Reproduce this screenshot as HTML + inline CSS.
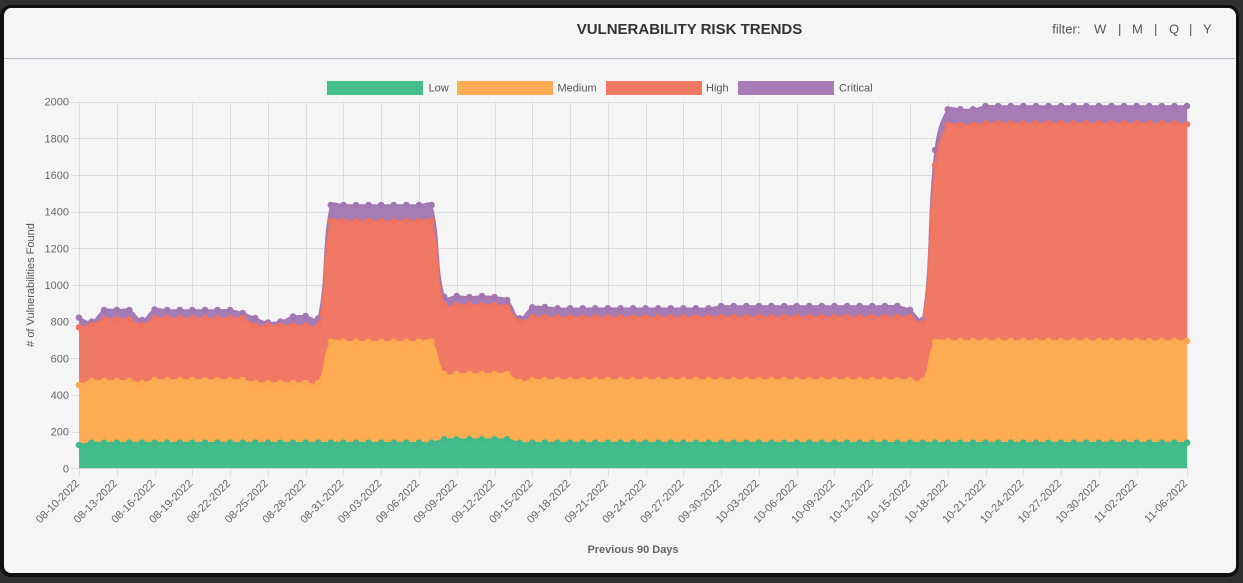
<!DOCTYPE html>
<html><head><meta charset="utf-8">
<style>
html,body{margin:0;padding:0;width:1243px;height:583px;overflow:hidden;background:#303030;}
.card{position:absolute;left:0;top:5px;width:1239px;height:572px;box-sizing:border-box;border:3px solid #0f0f0f;border-left-width:4px;border-bottom-width:4px;border-radius:11px;background:#f5f5f5;}
svg{position:absolute;left:0;top:0;}
text{font-family:"Liberation Sans",Arial,sans-serif;}
</style></head><body>
<div class="card"></div>
<svg width="1243" height="583" viewBox="0 0 1243 583" xmlns="http://www.w3.org/2000/svg">
<line x1="4" y1="58.5" x2="1235" y2="58.5" stroke="#bcb9cc" stroke-width="1"/>
<text x="689.5" y="34" font-size="15" font-weight="bold" fill="#333" text-anchor="middle">VULNERABILITY RISK TRENDS</text>
<g font-size="13" fill="#555">
<text x="1052.3" y="33.3">filter:</text>
<text x="1094" y="33.3">W</text>
<text x="1118" y="33.3">|</text>
<text x="1132" y="33.3">M</text>
<text x="1154" y="33.3">|</text>
<text x="1169" y="33.3">Q</text>
<text x="1189" y="33.3">|</text>
<text x="1203" y="33.3">Y</text>
</g>
<g>
<rect x="327" y="81" width="96" height="14" fill="#44bd8d"/>
<rect x="457" y="81" width="96" height="14" fill="#ffad55"/>
<rect x="606" y="81" width="96" height="14" fill="#f07965"/>
<rect x="738" y="81" width="96" height="14" fill="#a67cb6"/>
<g font-size="11" fill="#555">
<text x="428.5" y="91.5">Low</text>
<text x="557.5" y="91.5">Medium</text>
<text x="706" y="91.5">High</text>
<text x="839" y="91.5">Critical</text>
</g>
</g>
<g id="grid" stroke="#dedede" stroke-width="1"></g>
<g id="series"></g>
<g font-size="11" fill="#666" text-anchor="end">
<text x="69" y="472.3">0</text>
<text x="69" y="435.6">200</text>
<text x="69" y="399">400</text>
<text x="69" y="362.3">600</text>
<text x="69" y="325.7">800</text>
<text x="69" y="289">1000</text>
<text x="69" y="252.3">1200</text>
<text x="69" y="215.7">1400</text>
<text x="69" y="179">1600</text>
<text x="69" y="142.4">1800</text>
<text x="69" y="105.7">2000</text>
</g>
<text x="34" y="285" font-size="11" fill="#555" text-anchor="middle" transform="rotate(-90 34 285)"># of Vulnerabilities Found</text>
<text x="633" y="553" font-size="11" font-weight="bold" fill="#666" text-anchor="middle">Previous 90 Days</text>
<g font-size="11" fill="#666" text-anchor="end">
<text x="80" y="484" transform="rotate(-45 80 484)">08-10-2022</text>
<text x="117.8" y="484" transform="rotate(-45 117.8 484)">08-13-2022</text>
<text x="155.5" y="484" transform="rotate(-45 155.5 484)">08-16-2022</text>
<text x="193.3" y="484" transform="rotate(-45 193.3 484)">08-19-2022</text>
<text x="231.1" y="484" transform="rotate(-45 231.1 484)">08-22-2022</text>
<text x="268.9" y="484" transform="rotate(-45 268.9 484)">08-25-2022</text>
<text x="306.6" y="484" transform="rotate(-45 306.6 484)">08-28-2022</text>
<text x="344.4" y="484" transform="rotate(-45 344.4 484)">08-31-2022</text>
<text x="382.2" y="484" transform="rotate(-45 382.2 484)">09-03-2022</text>
<text x="420" y="484" transform="rotate(-45 420 484)">09-06-2022</text>
<text x="457.7" y="484" transform="rotate(-45 457.7 484)">09-09-2022</text>
<text x="495.5" y="484" transform="rotate(-45 495.5 484)">09-12-2022</text>
<text x="533.3" y="484" transform="rotate(-45 533.3 484)">09-15-2022</text>
<text x="571" y="484" transform="rotate(-45 571 484)">09-18-2022</text>
<text x="608.8" y="484" transform="rotate(-45 608.8 484)">09-21-2022</text>
<text x="646.6" y="484" transform="rotate(-45 646.6 484)">09-24-2022</text>
<text x="684.4" y="484" transform="rotate(-45 684.4 484)">09-27-2022</text>
<text x="722.1" y="484" transform="rotate(-45 722.1 484)">09-30-2022</text>
<text x="759.9" y="484" transform="rotate(-45 759.9 484)">10-03-2022</text>
<text x="797.7" y="484" transform="rotate(-45 797.7 484)">10-06-2022</text>
<text x="835.5" y="484" transform="rotate(-45 835.5 484)">10-09-2022</text>
<text x="873.2" y="484" transform="rotate(-45 873.2 484)">10-12-2022</text>
<text x="911" y="484" transform="rotate(-45 911 484)">10-15-2022</text>
<text x="948.8" y="484" transform="rotate(-45 948.8 484)">10-18-2022</text>
<text x="986.5" y="484" transform="rotate(-45 986.5 484)">10-21-2022</text>
<text x="1024.3" y="484" transform="rotate(-45 1024.3 484)">10-24-2022</text>
<text x="1062.1" y="484" transform="rotate(-45 1062.1 484)">10-27-2022</text>
<text x="1099.9" y="484" transform="rotate(-45 1099.9 484)">10-30-2022</text>
<text x="1137.6" y="484" transform="rotate(-45 1137.6 484)">11-02-2022</text>
<text x="1188" y="484" transform="rotate(-45 1188 484)">11-06-2022</text>
</g>
</svg>
<script>
(function(){
var NS="http://www.w3.org/2000/svg";
var N=89,X0=79,DX=1108/88,YB=468.3,YT=101.7;
function el(t,a,p){var e=document.createElementNS(NS,t);for(var k in a)e.setAttribute(k,a[k]);p.appendChild(e);return e;}
// grid
var g=document.getElementById('grid');
for(var k=0;k<=10;k++){var y=Math.round(YB-36.66*k)+0.5;el('line',{x1:71,y1:y,x2:1187,y2:y},g);}
var ticks=[];for(var i=0;i<=84;i+=3)ticks.push(i);ticks.push(88);
ticks.forEach(function(i){var x=Math.round(X0+DX*i)+0.5;el('line',{x1:x,y1:YT,x2:x,y2:476.5},g);});
function f(a,s,e,v){for(var i=s;i<=e;i++)a[i]=v;}
var C=new Array(N),H=new Array(N),M=new Array(N),L=new Array(N);
// Critical tops
C[0]=317.7;C[1]=321.7;f(C,2,4,310);C[5]=320;C[6]=309.5;f(C,7,12,310);C[13]=313;C[14]=318;C[15]=322.5;C[16]=321.5;C[17]=316.5;C[18]=316;C[19]=318.5;
f(C,20,28,205);C[29]=296.7;C[30]=296;C[31]=297;C[32]=296;C[33]=297;C[34]=300;C[35]=318.3;C[36]=307.3;C[37]=307;f(C,38,50,308.3);f(C,51,65,306);C[66]=310;C[67]=320;C[68]=150;f(C,69,71,109.3);f(C,72,88,106);
// High tops
H[0]=327.3;H[1]=325;f(H,2,4,319.3);H[5]=325;f(H,6,13,318.3);f(H,14,19,325.5);f(H,20,28,221);f(H,29,33,305);H[34]=307;H[35]=321.7;f(H,36,50,317.3);f(H,51,66,317);H[67]=323;H[68]=165;f(H,69,71,125);f(H,72,87,123.3);H[88]=124.3;
// Medium tops
M[0]=385;f(M,1,4,381);M[5]=383;f(M,6,13,380);f(M,14,19,383);f(M,20,28,341.7);f(M,29,34,374);M[35]=381.7;f(M,36,66,380);M[67]=381;M[68]=342;f(M,69,88,341);
// Low tops
L[0]=445;f(L,1,28,442.7);f(L,29,34,439.3);f(L,35,88,442.7);
function pts(a){return a.map(function(y,i){return {x:X0+DX*i,y:y};});}
function path(p){
 var t=0.4,cp=[];
 for(var i=0;i<p.length;i++){
  var pr=p[i-1]||p[i],cu=p[i],nx=p[i+1]||p[i];
  var d01=Math.hypot(cu.x-pr.x,cu.y-pr.y),d12=Math.hypot(nx.x-cu.x,nx.y-cu.y);
  var s01=d01/(d01+d12),s12=d12/(d01+d12);if(isNaN(s01))s01=0;if(isNaN(s12))s12=0;
  var fa=t*s01,fb=t*s12;
  var c1={x:cu.x-fa*(nx.x-pr.x),y:cu.y-fa*(nx.y-pr.y)},c2={x:cu.x+fb*(nx.x-pr.x),y:cu.y+fb*(nx.y-pr.y)};
  [c1,c2].forEach(function(c){c.y=Math.max(YT,Math.min(YB,c.y));c.x=Math.max(X0,Math.min(1187,c.x));});
  cp.push([c1,c2]);
 }
 var d='M'+p[0].x.toFixed(2)+','+p[0].y.toFixed(2);
 for(var i=1;i<p.length;i++){
  d+='C'+cp[i-1][1].x.toFixed(2)+','+cp[i-1][1].y.toFixed(2)+' '+cp[i][0].x.toFixed(2)+','+cp[i][0].y.toFixed(2)+' '+p[i].x.toFixed(2)+','+p[i].y.toFixed(2);
 }
 return d;
}
var S=document.getElementById('series');
var sets=[[C,'#a67cb6','#a276b3'],[H,'#f07965','#ee7360'],[M,'#ffad55','#fca84f'],[L,'#44bd8d','#40b989']];
sets.forEach(function(s){var p=pts(s[0]);var d=path(p);el('path',{d:d+'L1187,'+YB+'L79,'+YB+'Z',fill:s[1],stroke:'none'},S);});
sets.forEach(function(s){var p=pts(s[0]);var d=path(p);el('path',{d:d,fill:'none',stroke:s[2],'stroke-width':1.5},S);
 p.forEach(function(q){el('circle',{cx:q.x.toFixed(2),cy:q.y.toFixed(2),r:3.3,fill:s[2]},S);});});
// x axis baseline
el('line',{x1:79,y1:468.5,x2:1187,y2:468.5,stroke:'#d6d6d6','stroke-width':1},S);
})();
</script>
</body></html>
